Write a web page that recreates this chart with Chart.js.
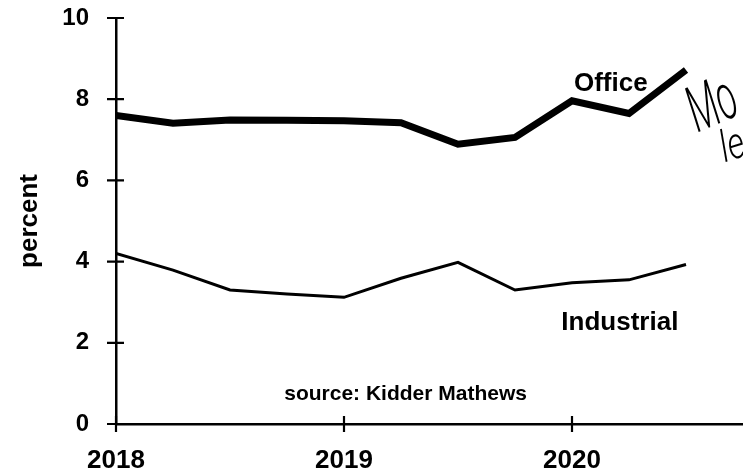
<!DOCTYPE html>
<html>
<head>
<meta charset="utf-8">
<script src="https://cdn.jsdelivr.net/npm/chart.js@4/dist/chart.umd.min.js"></script>
<style>
  html, body { margin: 0; padding: 0; background: #fff; }
  #wrap { width: 743px; height: 472px; }
</style>
</head>
<body>
<div id="wrap"><canvas id="vacancyChart" width="743" height="472"></canvas></div>
<script>
// quarterly vacancy
const quarters = [2018, 2018.25, 2018.5, 2018.75, 2019, 2019.25, 2019.5, 2019.75, 2020, 2020.25, 2020.5];
const office = [7.6, 7.41, 7.49, 7.48, 7.47, 7.42, 6.89, 7.06, 7.96, 7.65, 8.72];
const industrial = [4.2, 3.79, 3.3, 3.2, 3.12, 3.59, 3.98, 3.3, 3.48, 3.55, 3.93];
const yearTicks = [2018, 2019, 2020];
const percentTicks = [0, 2, 4, 6, 8, 10];

const FONT = '"Liberation Sans", Arial, sans-serif';
const HAND = 'Roboto, Inter, sans-serif';

const toPoints = (vals) => vals.map((v, i) => ({ x: quarters[i], y: v }));

// crossing tick marks + text notes on the plot
const axisMarks = {
  id: "axisMarks",
  afterDraw(chart) {
    const { ctx, scales: { x, y } } = chart;
    ctx.save();
    ctx.strokeStyle = "#000";
    ctx.lineWidth = 2.2;
    ctx.beginPath();
    x.ticks.forEach((t) => {
      const px = x.getPixelForValue(t.value);
      ctx.moveTo(px, y.bottom - 8);
      ctx.lineTo(px, y.bottom + 8);
    });
    y.ticks.forEach((t) => {
      const py = y.getPixelForValue(t.value);
      ctx.moveTo(x.left - 9, py);
      ctx.lineTo(x.left + 8, py);
    });
    ctx.stroke();

    ctx.fillStyle = "#000";
    ctx.textAlign = "center";
    ctx.textBaseline = "middle";
    ctx.font = "bold 26px " + FONT;
    ctx.fillText("Office", x.getPixelForValue(2020.17), y.getPixelForValue(8.37));
    ctx.fillText("Industrial", x.getPixelForValue(2020.21), y.getPixelForValue(2.5));
    ctx.font = "bold 21px " + FONT;
    ctx.fillText("source: Kidder Mathews", x.getPixelForValue(2019.27), y.getPixelForValue(0.74));
    ctx.restore();

    // handwritten note at the right edge
    ctx.save();
    ctx.fillStyle = "#000";
    ctx.textAlign = "left";
    ctx.textBaseline = "alphabetic";
    ctx.font = "italic 300 64px " + HAND;
    ctx.translate(x.getPixelForValue(2020.55), y.getPixelForValue(7.18));
    ctx.rotate(-0.4);
    ctx.scale(0.55, 1);
    ctx.fillText("Mo", 0, 0);
    ctx.restore();
    ctx.save();
    ctx.fillStyle = "#000";
    ctx.textAlign = "left";
    ctx.textBaseline = "alphabetic";
    ctx.font = "italic 300 44px " + HAND;
    ctx.translate(x.getPixelForValue(2020.67), y.getPixelForValue(6.45));
    ctx.rotate(-0.3);
    ctx.scale(0.75, 1);
    ctx.fillText("le", 0, 0);
    ctx.restore();
  },
};

const ctx = document.getElementById("vacancyChart").getContext("2d");
const chartInstance = new Chart(ctx, {
  type: "line",
  data: {
    datasets: [
      {
        label: "Office",
        data: toPoints(office),
        borderColor: "#000",
        borderWidth: 7,
        pointRadius: 0,
        tension: 0,
      },
      {
        label: "Industrial",
        data: toPoints(industrial),
        borderColor: "#000",
        borderWidth: 3,
        pointRadius: 0,
        tension: 0,
      },
    ],
  },
  options: {
    responsive: false,
    animation: false,
    devicePixelRatio: 1,
    layout: { padding: { top: 18, right: 0, bottom: 0, left: 0 } },
    plugins: {
      legend: { display: false },
      tooltip: { enabled: false },
    },
    scales: {
      x: {
        type: "linear",
        min: 2018,
        max: 2020.75,
        afterBuildTicks: (scale) => {
          scale.ticks = yearTicks.map((v) => ({ value: v }));
        },
        afterFit: (scale) => {
          scale.height = 48;
          scale.paddingLeft = 0;
          scale.paddingRight = 0;
        },
        grid: { display: false, drawTicks: false },
        border: { display: true, color: "#000", width: 2.5 },
        ticks: {
          padding: 21,
          color: "#000",
          font: { family: FONT, size: 26, weight: "bold" },
          callback: (v) => String(v),
          maxRotation: 0,
        },
      },
      y: {
        min: 0,
        max: 10,
        afterBuildTicks: (scale) => {
          scale.ticks = percentTicks.map((v) => ({ value: v }));
        },
        afterFit: (scale) => {
          scale.width = 116;
          scale.paddingTop = 0;
          scale.paddingBottom = 0;
        },
        grid: { display: false, drawTicks: false },
        border: { display: true, color: "#000", width: 2.5 },
        ticks: {
          padding: 27,
          color: "#000",
          font: { family: FONT, size: 24, weight: "bold" },
        },
        title: {
          display: true,
          text: "percent",
          color: "#000",
          font: { family: FONT, size: 26, weight: "bold" },
          padding: { top: 14, bottom: 0 },
        },
      },
    },
  },
  plugins: [axisMarks],
});
</script>
</body>
</html>
